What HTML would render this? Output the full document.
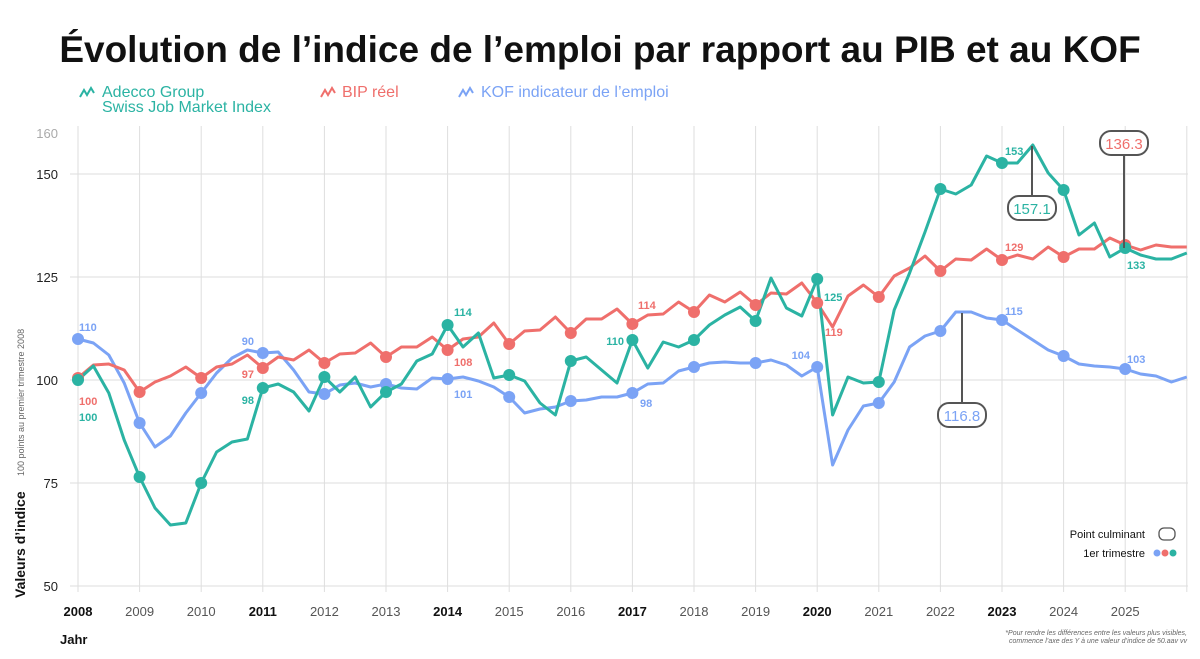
<!DOCTYPE html>
<html><head><meta charset="utf-8"><style>
body{margin:0;width:1200px;height:654px;background:#fff;overflow:hidden;font-family:"Liberation Sans",sans-serif}
</style></head><body>
<svg id="s" width="1200" height="654" xmlns="http://www.w3.org/2000/svg" font-family="Liberation Sans, sans-serif">
<text x="600" y="62" text-anchor="middle" font-size="37" font-weight="bold" fill="#111">Évolution de l’indice de l’emploi par rapport au PIB et au KOF</text>
<g font-size="16">
<polyline points="80,97 84,90 87,95 91,88 94,93" fill="none" stroke="#2bb3a3" stroke-width="2"/>
<text x="102" y="97" fill="#2bb3a3">Adecco Group</text>
<text x="102" y="112" fill="#2bb3a3">Swiss Job Market Index</text>
<polyline points="321,97 325,90 328,95 332,88 335,93" fill="none" stroke="#ef6f6c" stroke-width="2"/>
<text x="342" y="97" fill="#ef6f6c">BIP réel</text>
<polyline points="459,97 463,90 466,95 470,88 473,93" fill="none" stroke="#7ba3f5" stroke-width="2"/>
<text x="481" y="97" fill="#7ba3f5">KOF indicateur de l’emploi</text>
</g>
<g id="g"></g>
</svg>
<script>
const T=[380,366,393,440,477,508,525,523,483,452,442,439,388,384,392,411,377,392,377,407,392,384,361,354,325,347,333,378,375,381,403,415,361,357,370,383,340,368,342,347,340,325,315,307,321,278,308,316,279,415,377,383,382,310,273,232,189,194,185,156,163,163,145,173,190,235,223,257,248,255,259,259,253];
const R=[378,365,364,370,392,382,376,367,378,367,364,355,368,357,360,350,363,354,353,343,357,347,347,337,350,339,337,323,344,331,330,317,333,319,319,309,324,315,314,302,312,295,302,292,305,293,294,283,303,327,296,285,297,276,268,256,271,259,260,249,260,255,259,247,257,249,249,238,245,250,245,247,247];
const B=[339,343,355,383,423,447,436,413,393,373,358,350,353,352,370,392,394,385,383,387,384,388,389,378,379,377,381,387,397,413,409,407,401,400,397,397,393,384,383,371,367,363,362,363,363,360,365,376,367,465,430,406,403,382,347,336,331,312,312,318,320,330,340,350,356,364,366,367,369,374,376,382,377];
const X=i=>78+15.4*i, YX=y=>78+61.6*(y-2008);
let h='';
[150,125,100,75,50].forEach((v,k)=>{const y=380-(v-100)*4.12;h+=`<line x1="70" x2="1188" y1="${y}" y2="${y}" stroke="#dedede"/><text x="58" y="${y+5}" text-anchor="end" font-size="13" fill="#222">${v}</text>`;});
h+=`<text x="58" y="138" text-anchor="end" font-size="13" fill="#aaa">160</text>`;
for(let y=2008;y<=2026;y++){const x=YX(y);h+=`<line x1="${x}" x2="${x}" y1="126" y2="592" stroke="#dedede"/>`;if(y<2026){const b=[2008,2011,2014,2017,2020,2023].includes(y);h+=`<text x="${x}" y="616" text-anchor="middle" font-size="13" ${b?'font-weight="bold" fill="#111"':'fill="#555"'}>${y}</text>`;}}
const line=(a,c)=>{h+=`<polyline fill="none" stroke="${c}" stroke-width="3" stroke-linejoin="round" points="${a.map((y,i)=>X(i)+','+y).join(' ')}"/>`;};
const dots=(a,c)=>{for(let i=0;i<=68;i+=4)h+=`<circle cx="${X(i)}" cy="${a[i]}" r="6" fill="${c}"/>`;};
const TC='#2bb3a3',RC='#ef6f6c',BC='#7ba3f5';
line(B,BC);line(R,RC);line(T,TC);dots(B,BC);dots(R,RC);dots(T,TC);
const lab=(x,y,t,c,a)=>{h+=`<text x="${x}" y="${y}" font-size="11" font-weight="bold" fill="${c}" text-anchor="${a||'start'}">${t}</text>`;};
lab(79,421,'100',TC);lab(254,404,'98',TC,'end');lab(454,316,'114',TC);lab(624,345,'110',TC,'end');lab(824,301,'125',TC);lab(1005,155,'153',TC);lab(1127,269,'133',TC);
lab(79,405,'100',RC);lab(254,378,'97',RC,'end');lab(454,366,'108',RC);lab(638,309,'114',RC);lab(825,336,'119',RC);lab(1005,251,'129',RC);
lab(79,331,'110',BC);lab(254,345,'90',BC,'end');lab(454,398,'101',BC);lab(640,407,'98',BC);lab(810,359,'104',BC,'end');lab(1005,315,'115',BC);lab(1127,363,'103',BC);
const call=(cx,cy,t,c,l1,l2)=>{h+=`<line x1="${cx}" x2="${cx}" y1="${l1}" y2="${l2}" stroke="#555" stroke-width="2"/><rect x="${cx-24}" y="${cy-12}" width="48" height="24" rx="11" fill="#fff" stroke="#555" stroke-width="2"/><text x="${cx}" y="${cy+6}" text-anchor="middle" font-size="15" fill="${c}">${t}</text>`;};
call(1032,208,'157.1',TC,146,196);call(1124,143,'136.3',RC,155,248);call(962,415,'116.8',BC,313,403);
h+=`<text x="1145" y="538" text-anchor="end" font-size="11" fill="#111">Point culminant</text><rect x="1159" y="528" width="16" height="12" rx="5" fill="#fff" stroke="#555" stroke-width="1.3"/>`;
h+=`<text x="1145" y="557" text-anchor="end" font-size="11" fill="#111">1er trimestre</text><circle cx="1157" cy="553" r="3.5" fill="${BC}"/><circle cx="1165" cy="553" r="3.5" fill="${RC}"/><circle cx="1173" cy="553" r="3.5" fill="${TC}"/>`;
h+=`<text x="60" y="644" font-size="13" font-weight="bold" fill="#111">Jahr</text>`;
h+=`<text transform="translate(25,598) rotate(-90)" font-size="14" font-weight="bold" fill="#111">Valeurs d’indice</text>`;
h+=`<text transform="translate(24,476) rotate(-90)" font-size="9" fill="#666">100 points au premier trimestre 2008</text>`;
h+=`<text x="1187" y="635" text-anchor="end" font-size="7" font-style="italic" fill="#666">*Pour rendre les différences entre les valeurs plus visibles,</text><text x="1187" y="643" text-anchor="end" font-size="7" font-style="italic" fill="#666">commence l’axe des Y à une valeur d’indice de 50.aav vv</text>`;
document.getElementById('g').innerHTML=h;
</script>
</body></html>
